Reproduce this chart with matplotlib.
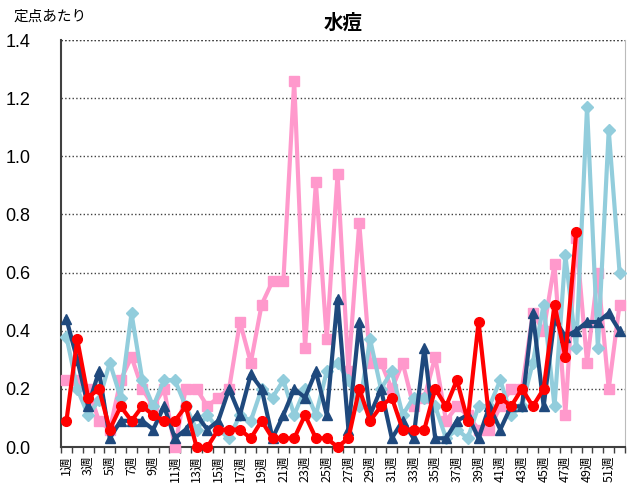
import numpy as np
import matplotlib
matplotlib.use("Agg")
import matplotlib.pyplot as plt
from matplotlib.ticker import FixedLocator

plt.rcParams['font.family'] = ['Noto Sans CJK JP', 'DejaVu Sans']

weeks = np.arange(1, 53)
week_labels = [f"{w}週" if w % 2 == 1 else "" for w in weeks]

pink = [0.23, 0.23, 0.20, 0.09, 0.06, 0.23, 0.31, 0.20, 0.14, 0.20,
        0.00, 0.20, 0.20, 0.14, 0.17, 0.20, 0.43, 0.29, 0.49, 0.57,
        0.57, 1.26, 0.34, 0.91, 0.37, 0.94, 0.26, 0.77, 0.29, 0.29,
        0.20, 0.29, 0.14, 0.17, 0.31, 0.09, 0.14, 0.11, 0.06, 0.06,
        0.14, 0.20, 0.20, 0.46, 0.40, 0.63, 0.11, 0.72, 0.29, 0.60,
        0.20, 0.49]

light_blue = [0.38, 0.20, 0.11, 0.16, 0.29, 0.17, 0.46, 0.23, 0.14, 0.23,
              0.23, 0.14, 0.06, 0.11, 0.06, 0.03, 0.11, 0.09, 0.20, 0.17,
              0.23, 0.11, 0.20, 0.11, 0.26, 0.29, 0.23, 0.14, 0.37, 0.20,
              0.26, 0.11, 0.17, 0.17, 0.14, 0.03, 0.06, 0.03, 0.14, 0.14,
              0.23, 0.11, 0.14, 0.29, 0.49, 0.14, 0.66, 0.34, 1.17, 0.34,
              1.09, 0.60]

dark_blue = [0.44, 0.30, 0.14, 0.26, 0.03, 0.09, 0.09, 0.09, 0.06, 0.14,
             0.03, 0.06, 0.11, 0.06, 0.09, 0.20, 0.11, 0.25, 0.20, 0.03,
             0.11, 0.20, 0.17, 0.26, 0.11, 0.51, 0.06, 0.43, 0.11, 0.20,
             0.03, 0.09, 0.03, 0.34, 0.03, 0.03, 0.09, 0.11, 0.03, 0.14,
             0.06, 0.14, 0.14, 0.46, 0.14, 0.44, 0.38, 0.40, 0.43, 0.43,
             0.46, 0.40]

red = [0.09, 0.37, 0.17, 0.20, 0.06, 0.14, 0.09, 0.14, 0.11, 0.09,
       0.09, 0.14, 0.00, 0.00, 0.06, 0.06, 0.06, 0.03, 0.09, 0.03,
       0.03, 0.03, 0.11, 0.03, 0.03, 0.00, 0.03, 0.20, 0.09, 0.14,
       0.17, 0.06, 0.06, 0.06, 0.20, 0.14, 0.23, 0.09, 0.43, 0.09,
       0.17, 0.14, 0.20, 0.14, 0.20, 0.49, 0.31, 0.74]

fig = plt.figure(figsize=(6.32, 4.97), dpi=100)
ax = fig.add_axes([61 / 632, 1 - 447 / 497, 564 / 632, 407 / 497])

ax.plot(weeks, pink, color='#FF99CC', lw=3, marker='s', ms=7, clip_on=False, zorder=3)
ax.plot(weeks, light_blue, color='#92CDDC', lw=3, marker='D', ms=6, clip_on=False, zorder=4)
ax.plot(weeks, dark_blue, color='#1F497D', lw=3, marker='^', ms=7, clip_on=False, zorder=5)
ax.plot(weeks[:len(red)], red, color='#FF0000', lw=3, marker='o', ms=7, clip_on=False, zorder=6)

ax.set_xlim(0.5, 52.5)
ax.set_ylim(0, 1.4)
yt = np.arange(0, 1.41, 0.2)
ax.set_yticks(yt)
ax.set_yticklabels([f"{v:.1f}" for v in yt], fontsize=13,
                   family=['Liberation Sans', 'DejaVu Sans'])
ax.tick_params(axis='y', length=0, pad=22)

ax.set_xticks(weeks)
ax.set_xticklabels(week_labels, rotation=90, fontsize=9)
ax.tick_params(axis='x', which='major', length=0, pad=6)
ax.xaxis.set_minor_locator(FixedLocator(np.arange(0.5, 53, 1)))
ax.tick_params(axis='x', which='minor', length=4, width=1, color='#404040', direction='out')

ax.grid(axis='y', linestyle=':', color='#404040', lw=1, zorder=0)
ax.spines['top'].set_visible(False)
ax.spines['right'].set_color('#BBBBBB')
ax.spines['left'].set_color('#404040')
ax.spines['left'].set_linewidth(1.5)
ax.spines['bottom'].set_color('#404040')
ax.spines['bottom'].set_linewidth(1.5)
ax.axhline(1.4, color='#404040', ls=':', lw=1, zorder=0)

ax.set_title("水痘", fontsize=14, fontweight='bold', pad=8)
fig.text(14 / 632, 1 - 17 / 497, "定点あたり", fontsize=10.5, va='center', ha='left')

fig.savefig("out.png", dpi=100)
